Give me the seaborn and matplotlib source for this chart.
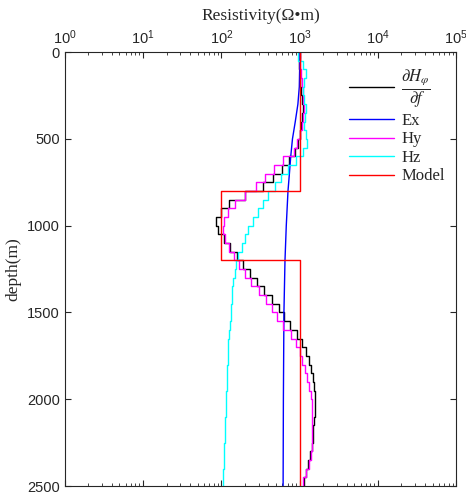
import matplotlib
matplotlib.use("Agg")
import matplotlib.pyplot as plt
import numpy as np
import pandas as pd
import seaborn as sns
from matplotlib.ticker import LogLocator, NullFormatter

# layer tops (m), 50 m layers down to 2500 m
layer_top = list(range(0, 2500, 50))

dhdf_rho = [1000, 980, 1000, 1020, 1050, 1080, 1100, 1080, 1050, 1000,
            950, 880, 740, 600, 455, 340, 200, 125, 99, 86,
            90, 108, 129, 158, 190, 235, 285, 350, 440, 540,
            640, 760, 930, 1080, 1200, 1300, 1400, 1470, 1530, 1570,
            1580, 1570, 1540, 1500, 1460, 1420, 1350, 1270, 1200, 1130]

hy_rho = [1000, 1020, 1050, 1080, 1100, 1120, 1130, 1100, 1060, 1000,
          930, 850, 620, 470, 360, 280, 200, 150, 122, 108,
          105, 110, 125, 145, 170, 200, 240, 300, 370, 440,
          520, 620, 770, 900, 1000, 1080, 1170, 1260, 1330, 1390,
          1430, 1440, 1440, 1440, 1440, 1420, 1400, 1300, 1200, 1120]

hz_rho = [950, 1100, 1200, 1150, 1100, 1150, 1200, 1180, 1150, 1220,
          1250, 1100, 900, 720, 570, 480, 400, 340, 290, 255,
          220, 200, 182, 165, 155, 148, 142, 138, 135, 133,
          131, 128, 126, 123, 121, 120, 119, 118, 117, 116,
          115, 113, 112, 111, 110, 109, 108, 107, 106, 105]

ex_depth = [0, 100, 200, 300, 400, 500, 600, 700, 800, 1000, 1200, 1500, 2000, 2500]
ex_rho = [1000, 1000, 990, 950, 880, 810, 770, 740, 710, 675, 650, 630, 620, 615]

model_top = [0, 800, 1200]
model_bottom = [800, 1200, 2500]
model_rho = [1000, 100, 1000]


def staircase(tops, rho, bottom=2500):
    bounds = list(tops) + [bottom]
    depth = np.repeat(bounds, 2)[1:-1]
    vals = np.repeat(rho, 2)
    return pd.DataFrame({"rho": vals, "depth": depth})


def model_frame(tops, bottoms, rho):
    depth = np.ravel(list(zip(tops, bottoms)))
    vals = np.repeat(rho, 2)
    return pd.DataFrame({"rho": vals, "depth": depth})


sns.set_theme(style="white")
plt.rcParams.update({
    "font.family": ["Liberation Sans", "DejaVu Sans"],
    "mathtext.fontset": "stix",
    "axes.edgecolor": "#262626",
    "xtick.color": "#262626",
    "ytick.color": "#262626",
    "xtick.direction": "in",
    "ytick.direction": "in",
    "axes.linewidth": 0.8,
})

fig, ax = plt.subplots(figsize=(4.66, 4.96), dpi=100)
fig.subplots_adjust(left=0.139, right=0.979, bottom=0.02, top=0.895)

series = [
    (staircase(layer_top, dhdf_rho), "black", r"$\dfrac{\partial H_\varphi}{\partial f}$"),
    (pd.DataFrame({"rho": ex_rho, "depth": ex_depth}), "#0000FF", "Ex"),
    (staircase(layer_top, hy_rho), "#FF00FF", "Hy"),
    (staircase(layer_top, hz_rho), "#00FFFF", "Hz"),
    (model_frame(model_top, model_bottom, model_rho), "#FF0000", "Model"),
]
for df, color, label in series:
    sns.lineplot(data=df, x="rho", y="depth", sort=False, estimator=None,
                 color=color, linewidth=1.0, label=label, ax=ax)

ax.set_xscale("log")
ax.set_xlim(1, 1e5)
ax.set_ylim(2500, 0)
ax.set_yticks([0, 500, 1000, 1500, 2000, 2500])
ax.xaxis.set_major_locator(LogLocator(base=10, numticks=10))
ax.xaxis.set_minor_locator(LogLocator(base=10, subs=np.arange(2, 10), numticks=20))
ax.xaxis.set_minor_formatter(NullFormatter())
ax.xaxis.tick_top()
ax.xaxis.set_label_position("top")
ax.tick_params(axis="both", which="both", top=True, bottom=True, left=True, right=True,
               labeltop=True, labelbottom=False, labelsize=10.5)
ax.tick_params(which="major", length=4, width=0.8)
ax.tick_params(which="minor", length=2, width=0.6)
for s in ax.spines.values():
    s.set_visible(True)

ax.set_xlabel("Resistivity(Ω•m)", family=["Liberation Serif", "DejaVu Serif"], fontsize=12.5, labelpad=6)
ax.set_ylabel("depth(m)", family=["Liberation Serif", "DejaVu Serif"], fontsize=12.5, labelpad=4)

leg = ax.legend(loc="upper right", bbox_to_anchor=(1.0, 0.99), frameon=False,
                prop={"family": ["Liberation Serif", "DejaVu Serif"], "size": 12},
                handlelength=2.7, handletextpad=0.4, labelspacing=0.15, borderaxespad=0.3)

fig.savefig("out.png", dpi=100)
